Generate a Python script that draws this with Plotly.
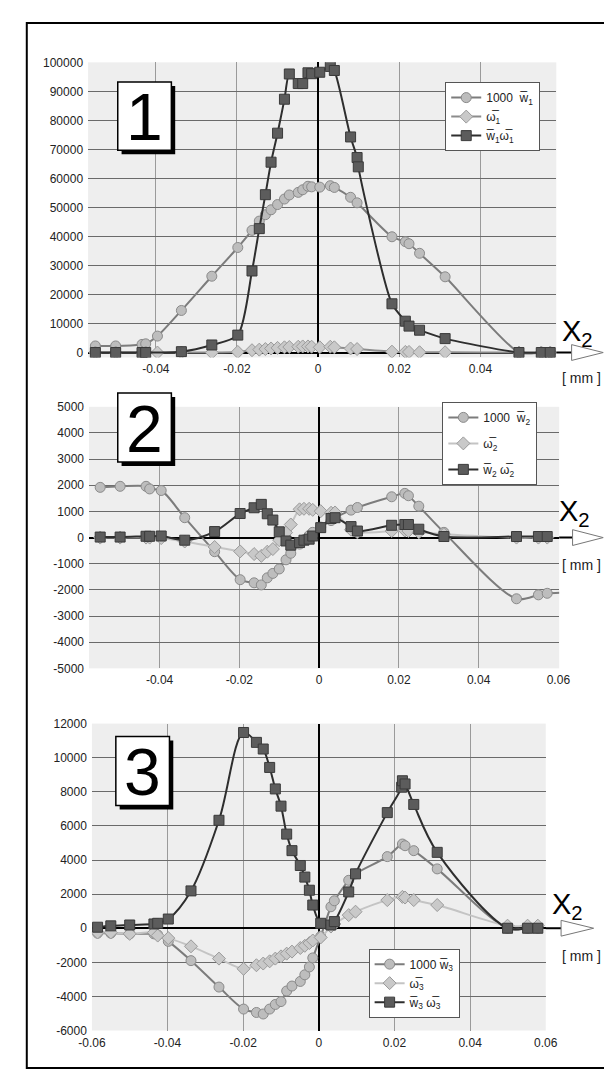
import plotly.graph_objects as go

# ---------------- data ----------------
# Panel 1
P1_X = [-0.0549, -0.0499, -0.0434, -0.0425, -0.0396, -0.0337, -0.0262, -0.0198, -0.0163, -0.0145,
        -0.0130, -0.0116, -0.0100, -0.0083, -0.0071, -0.0049, -0.0038, -0.0025, -0.0016, 0.0004,
        0.0030, 0.0040, 0.0080, 0.0096, 0.0182, 0.0215, 0.0224, 0.0250, 0.0313, 0.0495, 0.0550, 0.0572]
P1_W = [2270, 2270, 2800, 3000, 5670, 14500, 26300, 36200, 42100, 45300,
        47500, 49200, 51000, 52900, 54300, 55200, 56100, 57300, 57100, 57000,
        57500, 56900, 53500, 51600, 39900, 38200, 37500, 34200, 26100, 0, 0, 0]
P1_OM = [0, 0, 0, 0, 0, 0, 0, 200, 800, 1000,
         1200, 1400, 1600, 1800, 1900, 2000, 2100, 2100, 2000, 1800,
         2000, 1800, 1400, 1200, 300, 200, 200, 100, 100, 0, 0, 0]
P1_X_WOM = [-0.0549, -0.0499, -0.0434, -0.0425, -0.0337, -0.0262, -0.0198, -0.0163, -0.0145, -0.0130,
            -0.0116, -0.0100, -0.0083, -0.0071, -0.0049, -0.0038, -0.0025, -0.0016, 0.0004, 0.0030,
            0.0040, 0.0080, 0.0096, 0.0099, 0.0182, 0.0215, 0.0224, 0.0250, 0.0313, 0.0495, 0.0550, 0.0572]
P1_WOM = [0, 0, 0, 0, 300, 2600, 6000, 28100, 42700, 54400,
          65600, 75600, 87300, 96000, 92700, 92700, 96400, 96100, 96600, 98600,
          97200, 74300, 67200, 64000, 16800, 10800, 9100, 7700, 4800, 0, 0, 0]

# Panel 2
P2_X = P1_X
P2_X_W = P1_X + [0.0625]
P2_W = [1920, 1960, 1960, 1860, 1800, 760, -540, -1610, -1730, -1810,
        -1540, -1370, -1200, -850, -600, -250, -80, 80, 200, 400,
        650, 760, 1050, 1150, 1560, 1690, 1600, 1200, 200, -2340, -2190, -2130, -2100]
P2_OM = [0, 0, 0, 0, -20, -150, -360, -530, -630, -700,
         -540, -440, -100, 190, 500, 1080, 1100, 1100, 1060, 1010,
         950, 960, 300, 200, 250, 270, 250, 200, 130, 0, 0, 0]
P2_WOM = [20, 20, 50, 50, 60, -100, 230, 920, 1140, 1270,
          910, 670, 220, -130, -290, -190, -100, -60, 60, 380,
          730, 760, 420, 250, 470, 500, 500, 320, 40, 40, 40, 40]

# Panel 3
P3_X = [-0.0585, -0.0550, -0.0500, -0.0436, -0.0426, -0.0398, -0.0338, -0.0264, -0.0199, -0.0165,
        -0.0147, -0.0130, -0.0115, -0.0100, -0.0085, -0.0071, -0.0049, -0.0037, -0.0025, -0.0016,
        0.0005, 0.0032, 0.0041, 0.0079, 0.0097, 0.0181, 0.0221, 0.0228, 0.0251, 0.0313,
        0.0499, 0.0552, 0.0579]
P3_W = [-290, -290, -330, -330, -390, -770, -1900, -3450, -4740, -4940,
        -5030, -4740, -4470, -4300, -3680, -3390, -3120, -2730, -2270, -1740,
        -480, 1260, 1610, 2810, 3190, 4200, 4940, 4840, 4550, 3480,
        0, 0, 0]
P3_OM = [-250, -250, -330, -250, -430, -580, -1060, -1780, -2380, -2170,
         -2070, -1940, -1780, -1650, -1490, -1370, -1160, -1030, -870, -720,
         -540, 100, 250, 770, 970, 1650, 1840, 1800, 1650, 1360,
         150, 150, 150]
P3_X_WOM = [-0.0585, -0.0550, -0.0500, -0.0436, -0.0426, -0.0398, -0.0338, -0.0264, -0.0199, -0.0165,
            -0.0147, -0.0130, -0.0115, -0.0100, -0.0085, -0.0071, -0.0049, -0.0037, -0.0025, -0.0016,
            0.0005, 0.0032, 0.0041, 0.0079, 0.0097, 0.0181, 0.0219, 0.0221, 0.0228, 0.0251,
            0.0313, 0.0499, 0.0552, 0.0579]
P3_WOM = [60, 140, 190, 250, 290, 540, 2190, 6330, 11480, 10900,
          10510, 9430, 8170, 7160, 5520, 4550, 3680, 3000, 2230, 1360,
          290, 190, 390, 2130, 3190, 6780, 8270, 8650, 8460, 7260,
          4450, 0, 0, 0]

X_TICKS_1 = [-0.04, -0.02, 0, 0.02, 0.04]
X_TICKS_2 = [-0.04, -0.02, 0, 0.02, 0.04, 0.06]
X_TICKS_3 = [-0.06, -0.04, -0.02, 0, 0.02, 0.04, 0.06]
Y_TICKS_1 = list(range(0, 100001, 10000))
Y_TICKS_2 = list(range(-5000, 5001, 1000))
Y_TICKS_3 = list(range(-6000, 12001, 2000))
OL = "\u0305"
NAMES = {
    1: ["1000  w" + OL + "<sub>1</sub>", "ω" + OL + "<sub>1</sub>", "w" + OL + "<sub>1</sub>ω" + OL + "<sub>1</sub>"],
    2: ["1000  w" + OL + "<sub>2</sub>", "ω" + OL + "<sub>2</sub>", "w" + OL + "<sub>2</sub> ω" + OL + "<sub>2</sub>"],
    3: ["1000 w" + OL + "<sub>3</sub>", "ω" + OL + "<sub>3</sub>", "w" + OL + "<sub>3</sub> ω" + OL + "<sub>3</sub>"],
}

# ---------------- layout helpers ----------------
W, H = 612, 1071
def px(x):
    return x / W
def py(y):
    return 1 - y / H

FONT = "Liberation Sans, Arial, sans-serif"

CIRC = dict(symbol="circle", size=10, color="#bdbdbd", line=dict(color="#8a8a8a", width=1))
DIAM = dict(symbol="diamond", size=10, color="#c9c9c9", line=dict(color="#9a9a9a", width=1))
SQR = dict(symbol="square", size=10, color="#5c5c5c", line=dict(color="#3a3a3a", width=1))

fig = go.Figure()

def add_panel(k, xw, w, xo, o, xwo, wo, diam_line, sm):
    xa = "x" if k == 1 else f"x{k}"
    ya = "y" if k == 1 else f"y{k}"
    lg = "legend" if k == 1 else f"legend{k}"
    n = NAMES[k]
    fig.add_trace(go.Scatter(x=xw, y=w, mode="lines+markers", name=n[0], xaxis=xa, yaxis=ya,
                             legend=lg, legendgroup=f"a{k}",
                             line=dict(color="#7c7c7c", width=2, shape="spline", smoothing=sm),
                             marker=CIRC))
    fig.add_trace(go.Scatter(x=xo, y=o, mode="lines+markers", name=n[1], xaxis=xa, yaxis=ya,
                             legend=lg, legendgroup=f"b{k}",
                             line=dict(color=diam_line, width=2, shape="spline", smoothing=sm),
                             marker=DIAM))
    fig.add_trace(go.Scatter(x=xwo, y=wo, mode="lines+markers", name=n[2], xaxis=xa, yaxis=ya,
                             legend=lg, legendgroup=f"c{k}",
                             line=dict(color="#2e2e2e", width=2, shape="spline", smoothing=sm),
                             marker=SQR))

add_panel(1, P1_X, P1_W, P1_X, P1_OM, P1_X_WOM, P1_WOM, "#8c8c8c", 0.7)
add_panel(2, P2_X_W, P2_W, P2_X, P2_OM, P2_X, P2_WOM, "#c4c4c4", 0.9)
add_panel(3, P3_X, P3_W, P3_X, P3_OM, P3_X_WOM, P3_WOM, "#c4c4c4", 1.0)

# panel geometry in pixels: (left, right, top, bottom)
G1 = (69, 558, 48, 347)
G2 = (70, 561, 397, 662)
G3 = (73, 547, 718, 1029)
R1 = (-1700, 100000)
R2 = (-5000, 5000)
R3 = (-6000, 12000)

def xax(g, rng, ticks, anchor):
    return dict(domain=[px(g[0]), px(g[1])], range=rng, tickvals=ticks,
                ticktext=[("0" if t == 0 else f"{t:.2f}") for t in ticks],
                showgrid=True, gridcolor="#9a9a9a", gridwidth=1,
                zeroline=True, zerolinecolor="#000000", zerolinewidth=1.5,
                showline=False, ticks="", ticklabelstandoff=3,
                tickfont=dict(family=FONT, size=12, color="#222"),
                anchor=anchor, fixedrange=True)

def yax(g, rng, ticks, anchor):
    return dict(domain=[py(g[3]), py(g[2])], range=list(rng), tickvals=ticks,
                ticktext=[str(t) for t in ticks],
                showgrid=True, gridcolor="#6a6a6a", gridwidth=1,
                zeroline=True, zerolinecolor="#000000", zerolinewidth=2,
                showline=False, ticks="", ticklabelstandoff=4,
                tickfont=dict(family=FONT, size=12, color="#222"),
                anchor=anchor, fixedrange=True)

LEG = dict(xanchor="left", yanchor="top", bgcolor="white", bordercolor="#555", borderwidth=1,
           font=dict(family=FONT, size=12, color="#222"), itemwidth=30)

fig.update_layout(
    width=W, height=H, autosize=False,
    margin=dict(l=0, r=0, t=0, b=0),
    paper_bgcolor="white", plot_bgcolor="#eeeeee",
    font=dict(family=FONT, size=12, color="#222"),
    xaxis=xax(G1, [-0.0567, 0.0587], X_TICKS_1, "y"),
    yaxis=yax(G1, R1, Y_TICKS_1, "x"),
    xaxis2=xax(G2, [-0.0577, 0.0602], X_TICKS_2, "y2"),
    yaxis2=yax(G2, R2, Y_TICKS_2, "x2"),
    xaxis3=xax(G3, [-0.06, 0.06], X_TICKS_3, "y3"),
    yaxis3=yax(G3, R3, Y_TICKS_3, "x3"),
    legend=dict(LEG, x=px(442), y=py(68), tracegroupgap=0),
    legend2=dict(LEG, x=px(439), y=py(392), tracegroupgap=7),
    legend3=dict(LEG, x=px(362), y=py(946), tracegroupgap=0),
    showlegend=True,
)

shapes = []
annotations = []
# outer frame
shapes.append(dict(type="rect", xref="paper", yref="paper", x0=px(5), x1=px(609), y0=py(1067), y1=py(8),
                   line=dict(color="black", width=2)))

# number boxes
for label, (bx0, by0, bx1, by1) in zip(["1", "2", "3"], [(100, 68, 156, 137), (100, 383, 156, 453), (98, 731, 154, 801)]):
    shapes.append(dict(type="rect", xref="paper", yref="paper", x0=px(bx0 + 4), x1=px(bx1 + 4),
                       y0=py(by1 + 4), y1=py(by0 + 4), fillcolor="black", line=dict(width=0)))
    shapes.append(dict(type="rect", xref="paper", yref="paper", x0=px(bx0), x1=px(bx1),
                       y0=py(by1), y1=py(by0), fillcolor="white", line=dict(color="black", width=1.5)))
    annotations.append(dict(xref="paper", yref="paper", x=px((bx0 + bx1) / 2), y=py((by0 + by1) / 2 + 1),
                            text=label, showarrow=False, xanchor="center", yanchor="middle",
                            font=dict(family=FONT, size=66, color="black")))

# axis arrows, X2 labels and [mm]
for k, g, rng, tri, xlab, mm in [
    (1, G1, R1, (574, 607), (580, 322), 368),
    (2, G2, R2, (575, 607), (577, 505), 557),
    (3, G3, R3, (563, 597), (570, 903), 953),
]:
    ya = "y" if k == 1 else f"y{k}"
    shapes.append(dict(type="line", xref="paper", yref=ya, x0=px(g[1]), x1=px(tri[0]), y0=0, y1=0,
                       line=dict(color="black", width=2)))
    zy = g[2] + (g[3] - g[2]) * (rng[1] - 0) / (rng[1] - rng[0])
    path = (f"M {px(tri[0])} {py(zy - 8)} L {px(tri[1])} {py(zy)} L {px(tri[0])} {py(zy + 8)} Z")
    shapes.append(dict(type="path", xref="paper", yref="paper", path=path, fillcolor="white",
                       line=dict(color="#777", width=1)))
    annotations.append(dict(xref="paper", yref="paper", x=px(xlab[0]), y=py(xlab[1]),
                            text="X<sub>2</sub>", showarrow=False, xanchor="center", yanchor="middle",
                            font=dict(family=FONT, size=29, color="black")))
    annotations.append(dict(xref="paper", yref="paper", x=px(607), y=py(mm),
                            text="[ mm ]", showarrow=False, xanchor="right", yanchor="middle",
                            font=dict(family=FONT, size=14, color="#222")))

fig.update_layout(shapes=shapes, annotations=annotations)

fig.write_html("out.html")
